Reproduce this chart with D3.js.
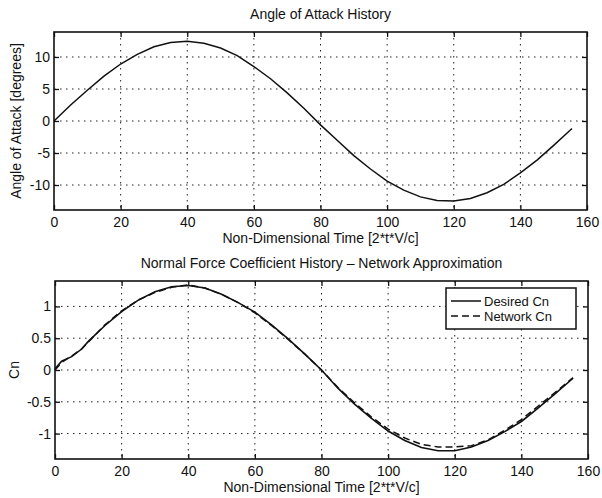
<!DOCTYPE html>
<html>
<head>
<meta charset="utf-8">
<script src="https://cdn.jsdelivr.net/npm/d3@7"></script>
<style>
  body { margin: 0; background: #fff; }
  svg text { font-family: "Liberation Sans", Arial, Helvetica, sans-serif; fill: #111; }
</style>
</head>
<body>
<div id="d3-container"></div>
<script>
//DATA

const xTicks = [0, 20, 40, 60, 80, 100, 120, 140, 160];
const alphaTicks = [-10, -5, 0, 5, 10];
const cnTicks = [-1, -0.5, 0, 0.5, 1];

const alphaTime = [0, 5, 10, 15, 20, 25, 30, 35, 40, 45, 50, 55, 60, 65, 70, 75,
  80, 85, 90, 95, 100, 105, 110, 115, 120, 125, 130, 135, 140, 145, 150, 155, 155.5];
const alphaDeg = [0, 2.5, 4.8, 7.0, 8.9, 10.4, 11.6, 12.25, 12.45, 12.15, 11.4, 10.2, 8.5, 6.6, 4.4, 2.0,
  -0.6, -3.0, -5.4, -7.5, -9.4, -10.8, -11.85, -12.4, -12.5, -12.1, -11.2, -9.9, -8.1, -6.1, -3.8, -1.4, -1.2];

const cnTime = [0, 2, 5, 8, 10, 15, 20, 25, 30, 35, 40, 45, 50, 55, 60, 65, 70, 75,
  80, 85, 90, 95, 100, 105, 110, 115, 120, 125, 130, 135, 140, 145, 150, 155.5];
const cnDesired = [0.02, 0.14, 0.21, 0.33, 0.45, 0.70, 0.92, 1.10, 1.23, 1.31, 1.33, 1.29, 1.19, 1.06, 0.91, 0.71, 0.49, 0.25,
  0.0, -0.29, -0.54, -0.76, -0.96, -1.11, -1.22, -1.27, -1.27, -1.21, -1.11, -0.97, -0.81, -0.60, -0.38, -0.13];
const cnNetwork = [0.0, 0.12, 0.22, 0.33, 0.44, 0.71, 0.93, 1.10, 1.22, 1.30, 1.34, 1.29, 1.19, 1.06, 0.90, 0.70, 0.48, 0.25,
  0.0, -0.28, -0.52, -0.74, -0.93, -1.07, -1.17, -1.21, -1.21, -1.19, -1.10, -0.95, -0.78, -0.57, -0.36, -0.12];

//LAYOUT

const width = 602,
  height = 498;

const svg = d3.select("#d3-container")
  .append("svg")
  .attr("width", width)
  .attr("height", height);

// matlab prints a plain hyphen for negatives
const plainMinus = f => d => f(d).replace("\u2212", "-");

// draws one matlab-style panel, returns scales
function drawPanel(p) {
  const x = d3.scaleLinear().domain([0, 160]).range([p.left, p.right]);
  const y = d3.scaleLinear().domain(p.yDomain).range([p.bottom, p.top]);

  const g = svg.append("g");

  // grid
  g.selectAll(".vgrid")
    .data(xTicks.slice(1, -1))
    .join("line")
    .attr("x1", d => x(d)).attr("x2", d => x(d))
    .attr("y1", p.top).attr("y2", p.bottom)
    .attr("stroke", "#222").attr("stroke-width", 1)
    .attr("stroke-dasharray", "1.5,4.5");

  g.selectAll(".hgrid")
    .data(p.yTicks)
    .join("line")
    .attr("x1", p.left).attr("x2", p.right)
    .attr("y1", d => y(d)).attr("y2", d => y(d))
    .attr("stroke", "#222").attr("stroke-width", 1)
    .attr("stroke-dasharray", "1.5,4.5");

  // axes, ticks pointing inward
  const fs = "14px";
  const bottomAxis = g.append("g")
    .attr("transform", `translate(0,${p.bottom})`)
    .call(d3.axisBottom(x).tickValues(xTicks).tickSizeInner(-5).tickSizeOuter(0).tickPadding(7));
  const leftAxis = g.append("g")
    .attr("transform", `translate(${p.left},0)`)
    .call(d3.axisLeft(y).tickValues(p.yTicks).tickSizeInner(-5).tickSizeOuter(0).tickPadding(4).tickFormat(p.fmt));
  const topAxis = g.append("g")
    .attr("transform", `translate(0,${p.top})`)
    .call(d3.axisTop(x).tickValues(xTicks).tickSizeInner(-5).tickSizeOuter(0).tickFormat(""));
  const rightAxis = g.append("g")
    .attr("transform", `translate(${p.right},0)`)
    .call(d3.axisRight(y).tickValues(p.yTicks).tickSizeInner(-5).tickSizeOuter(0).tickFormat(""));

  [bottomAxis, leftAxis, topAxis, rightAxis].forEach(a => {
    a.select(".domain").remove();
    a.selectAll("line").attr("stroke", "#111").attr("stroke-width", 1.3);
    a.selectAll("text").attr("font-size", fs).attr("fill", "#111")
      .attr("font-family", "Liberation Sans, Arial, sans-serif");
  });

  // box
  g.append("rect")
    .attr("x", p.left).attr("y", p.top)
    .attr("width", p.right - p.left).attr("height", p.bottom - p.top)
    .attr("fill", "none").attr("stroke", "#111").attr("stroke-width", 1.6);

  // titles / labels
  g.append("text")
    .attr("x", (p.left + p.right) / 2).attr("y", p.top - 13)
    .attr("text-anchor", "middle").attr("font-size", fs)
    .text(p.title);

  g.append("text")
    .attr("x", (p.left + p.right) / 2).attr("y", p.bottom + 33)
    .attr("text-anchor", "middle").attr("font-size", fs)
    .text("Non-Dimensional Time [2*t*V/c]");

  g.append("text")
    .attr("transform", `translate(${p.ylabelX},${(p.top + p.bottom) / 2}) rotate(-90)`)
    .attr("text-anchor", "middle").attr("font-size", fs)
    .text(p.ylabel);

  return { x, y, g };
}

//TOP PANEL - angle of attack

const topPanel = drawPanel({
  left: 54, right: 587, top: 32, bottom: 210,
  yDomain: [-13.9, 13.9], yTicks: alphaTicks, fmt: plainMinus(d3.format("d")),
  title: "Angle of Attack History",
  ylabel: "Angle of Attack [degrees]", ylabelX: 21
});

const alphaLine = d3.line()
  .x((d, i) => topPanel.x(alphaTime[i]))
  .y(d => topPanel.y(d));

topPanel.g.append("path")
  .datum(alphaDeg)
  .attr("d", alphaLine)
  .attr("fill", "none").attr("stroke", "#111").attr("stroke-width", 1.5);

//BOTTOM PANEL - normal force coefficient

const botPanel = drawPanel({
  left: 55, right: 588, top: 281, bottom: 459,
  yDomain: [-1.4, 1.4], yTicks: cnTicks, fmt: plainMinus(d3.format("")),
  title: "Normal Force Coefficient History \u2013 Network Approximation",
  ylabel: "Cn", ylabelX: 19
});

const cnLine = d3.line()
  .x((d, i) => botPanel.x(cnTime[i]))
  .y(d => botPanel.y(d));

botPanel.g.append("path")
  .datum(cnDesired)
  .attr("d", cnLine)
  .attr("fill", "none").attr("stroke", "#111").attr("stroke-width", 1.6);

botPanel.g.append("path")
  .datum(cnNetwork)
  .attr("d", cnLine)
  .attr("fill", "none").attr("stroke", "#111").attr("stroke-width", 1.5)
  .attr("stroke-dasharray", "7,4");

// legend
const legend = botPanel.g.append("g").attr("transform", "translate(446,288)");
legend.append("rect")
  .attr("width", 130).attr("height", 41)
  .attr("fill", "#fff").attr("stroke", "#111").attr("stroke-width", 1.5);

const legendItems = [
  { label: "Desired Cn", dash: null },
  { label: "Network Cn", dash: "7,4" }
];
legendItems.forEach((d, i) => {
  const yy = 13 + i * 15;
  legend.append("line")
    .attr("x1", 5).attr("x2", 35).attr("y1", yy).attr("y2", yy)
    .attr("stroke", "#111").attr("stroke-width", 1.5)
    .attr("stroke-dasharray", d.dash);
  legend.append("text")
    .attr("x", 38).attr("y", yy + 4.5)
    .attr("font-size", "13px")
    .text(d.label);
});
</script>
</body>
</html>
